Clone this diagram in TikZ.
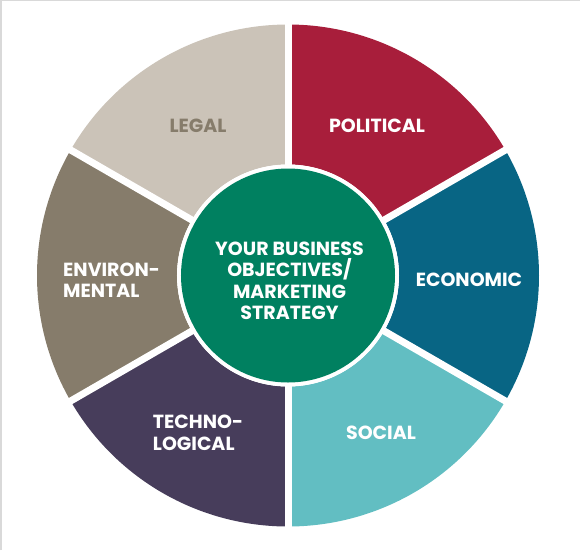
\documentclass[tikz,border=0pt]{standalone}
\usepackage{fontspec}
\setsansfont{Poppins}
\usetikzlibrary{positioning}
\definecolor{politicalred}{HTML}{A81E3B}
\definecolor{economicblue}{HTML}{086584}
\definecolor{socialcyan}{HTML}{62BEC2}
\definecolor{technoplum}{HTML}{473D5B}
\definecolor{environtaupe}{HTML}{867C6B}
\definecolor{legalsand}{HTML}{CBC3B8}
\definecolor{coregreen}{HTML}{008060}
\definecolor{framegrey}{HTML}{D9D9D9}

\begin{document}
\begin{tikzpicture}[x=1pt,y=1pt,
  factor/.style={font=\sffamily\bfseries\fontsize{19}{21.5}\selectfont,text=white,align=center,inner sep=0pt}]
\useasboundingbox (-288,-274.5) rectangle (292,275.5);
\draw [framegrey,line width=1.5pt] (-287,-274.5) -- (-287,274.8) -- (292,274.8);
% the six segments of the ring
\foreach \a/\c in {30/politicalred,90/legalsand,150/environtaupe,210/technoplum,270/socialcyan,330/economicblue}
  \fill [\c] (\a:251) arc (\a:\a+60:251) -- (\a+60:111) arc (\a+60:\a:111) -- cycle;
\foreach \a in {30,90,...,330}
  \draw [white,line width=7pt] (0,0) -- (\a:262);
\fill [white] (0,0) circle (111);
\node [circle,fill=coregreen,minimum size=214pt,inner sep=0pt] (core) at (0,0) {};
\node [factor] (goal) at (1.5,-5.5) {YOUR BUSINESS\\OBJECTIVES/\\MARKETING\\STRATEGY};
% labels
\node [factor] (political) at (89,150) {POLITICAL};
\node [factor] (economic) at (181,-4) {ECONOMIC};
\node [factor] (social) at (93,-157) {SOCIAL};
\node [factor,align=left] (techno) at (-90,-157.5) {TECHNO-\\LOGICAL};
\node [factor,align=left,anchor=west] (environ) at (-225,-4.5) {ENVIRON-\\MENTAL};
\node [factor,text=environtaupe] (legal) at (-90,149.5) {LEGAL};
\end{tikzpicture}
\end{document}
